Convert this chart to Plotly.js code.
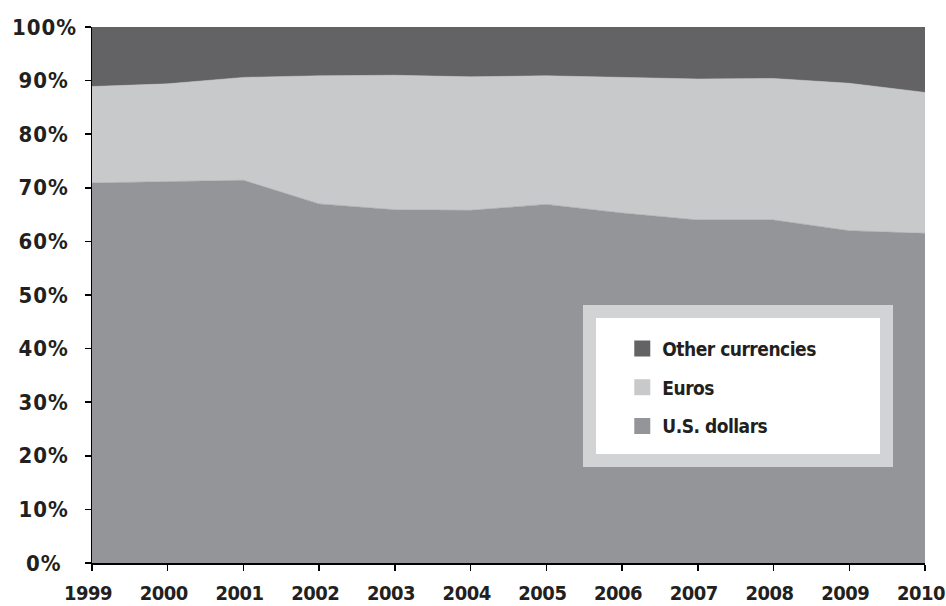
<!DOCTYPE html>
<html>
<head>
<meta charset="utf-8">
<script src="https://cdn.plot.ly/plotly-3.0.1.min.js"></script>
<style>
  html, body { margin: 0; padding: 0; background: #fff; }
  #chart { width: 946px; height: 606px; }
  #chart .annotation-text { letter-spacing: 1px; }
  #chart .xtick text { letter-spacing: -0.5px; }
  #chart .legendtext { letter-spacing: -0.5px; }
</style>
</head>
<body>
<div id="chart"></div>
<script>
// ---- data ----
const years = [1999, 2000, 2001, 2002, 2003, 2004, 2005, 2006, 2007, 2008, 2009, 2010];
const usDollars = [70.9, 71.1, 71.4, 67.0, 65.9, 65.8, 66.9, 65.3, 64.0, 64.0, 62.0, 61.5];
const euros     = [18.0, 18.3, 19.2, 23.9, 25.1, 24.9, 24.0, 25.3, 26.3, 26.4, 27.5, 26.3];
const others    = [11.1, 10.6, 9.4, 9.1, 9.0, 9.3, 9.1, 9.4, 9.7, 9.6, 10.5, 12.2];
const seriesNames = ['U.S. dollars', 'Euros', 'Other currencies'];
const yTicks = [0, 10, 20, 30, 40, 50, 60, 70, 80, 90, 100];
const yTickLabels = ['0%', '10%', '20%', '30%', '40%', '50%', '60%', '70%', '80%', '90%', '100%'];

// ---- style ----
const FONT = "'DejaVu Sans Condensed', 'Liberation Sans Narrow', 'Arial Narrow', sans-serif";
const TXT = '#231f20';
const colors = { usd: '#949599', eur: '#c8c9cb', oth: '#636365' };

function area(name, y, color) {
  return {
    type: 'scatter', mode: 'lines', x: years, y: y, name: name,
    stackgroup: 'one', fillcolor: color,
    line: { color: color, width: 0.5 },
    showlegend: false, hoverinfo: 'x+y+name'
  };
}
function legendItem(name, color) {
  return {
    type: 'scatter', mode: 'markers', x: [null], y: [null], name: name,
    legendgroup: name,
    marker: { symbol: 'square', size: 16, color: color },
    showlegend: true, hoverinfo: 'skip'
  };
}

const data = [
  area(seriesNames[0], usDollars, colors.usd),
  area(seriesNames[1], euros, colors.eur),
  area(seriesNames[2], others, colors.oth),
  legendItem(seriesNames[2], colors.oth),
  legendItem(seriesNames[1], colors.eur),
  legendItem(seriesNames[0], colors.usd)
];

const annotations = yTicks.map((v, i) => ({
  xref: 'paper', x: -0.0575, xanchor: 'center',
  yref: 'y', y: v, yanchor: 'middle',
  text: yTickLabels[i], showarrow: false,
  font: { family: FONT, size: 22, color: TXT, weight: 'bold' }
}));

const layout = {
  width: 946, height: 606,
  margin: { l: 92, r: 21, t: 27, b: 43 },
  paper_bgcolor: '#ffffff', plot_bgcolor: '#ffffff',
  showlegend: true,
  xaxis: {
    range: [1999, 2010], tickvals: years, ticktext: years.map(String),
    ticks: 'outside', ticklen: 6, tickwidth: 1.5, tickcolor: '#000',
    showline: true, linecolor: '#000', linewidth: 1.5,
    showgrid: false, zeroline: false, ticklabeloverflow: 'allow',
    ticklabelshift: -4, ticklabelstandoff: 5,
    tickfont: { family: FONT, size: 20, color: TXT, weight: 'bold' }
  },
  yaxis: {
    range: [0, 100], tickvals: yTicks, showticklabels: false,
    ticks: 'outside', ticklen: 6, tickwidth: 1.5, tickcolor: '#000',
    showline: true, linecolor: '#000', linewidth: 1.5,
    showgrid: false, zeroline: false
  },
  shapes: [{
    type: 'rect', xref: 'paper', yref: 'paper', layer: 'above',
    x0: 0.5972, x1: 0.9538, y0: 0.1912, y1: 0.4692,
    fillcolor: '#ffffff', line: { color: '#d2d3d5', width: 13 }
  }],
  legend: {
    x: 0.6366, y: 0.4354, xanchor: 'left', yanchor: 'top',
    bgcolor: 'rgba(0,0,0,0)', borderwidth: 0,
    traceorder: 'grouped', tracegroupgap: 11,
    font: { family: FONT, size: 19, color: TXT, weight: 'bold' }
  },
  annotations: annotations
};

Plotly.newPlot('chart', data, layout, { displayModeBar: false, staticPlot: true });
</script>
</body>
</html>
